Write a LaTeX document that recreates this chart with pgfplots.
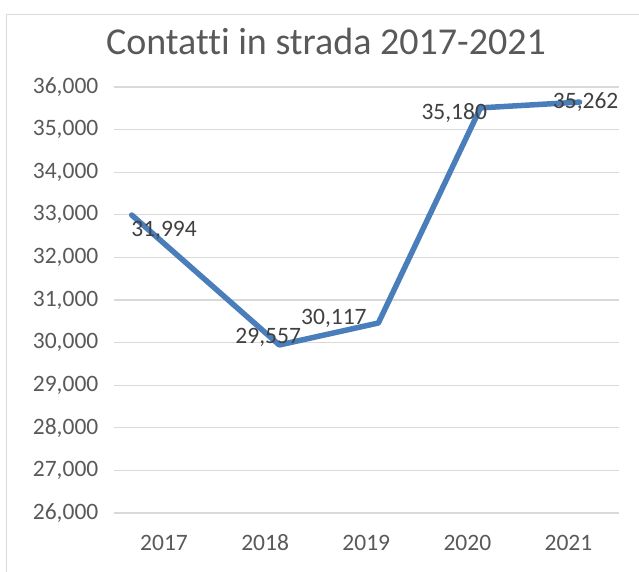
\documentclass[border=0pt]{standalone}
\usepackage{fontspec}
\setmainfont{Carlito}[Ligatures=CommonOff]
\usepackage{pgfplots}
\usepackage{pgfplotstable}
\pgfplotsset{compat=1.18}
\definecolor{gridgray}{RGB}{217,217,217}
\definecolor{titlegray}{RGB}{89,89,89}
\definecolor{labelgray}{RGB}{64,64,64}
\definecolor{lineblue}{RGB}{74,126,187}

\pgfplotstableread{
x y
-0.32 32995
1.14 29944
2.12 30460
3.13 35510
4.11 35645
}\linedata

\pgfplotstableread{
x y label
0.00 32631 31,994
1.03 30120 29,557
1.68 30559 30,117
2.87 35401 35,180
4.17 35636 35,262
}\labeldata

\begin{document}
\begin{tikzpicture}[x=1pt,y=1pt]
\useasboundingbox (0,0) rectangle (639,572);
\draw[color=gridgray, line width=1pt] (6,-5) -- (6,557) -- (645,557);
\node[text=titlegray, font=\fontsize{38}{45}\selectfont, inner sep=0pt] at (326,531) {Contatti in strada 2017-2021};
\begin{axis}[
  at={(113.5pt,59pt)}, anchor=south west,
  scale only axis, width=505.5pt, height=426pt,
  xmin=-0.5, xmax=4.5, ymin=26000, ymax=36000,
  xtick={0,1,2,3,4}, xticklabels={2017,2018,2019,2020,2021},
  ytick={26000,27000,...,36000},
  scaled y ticks=false,
  /pgf/number format/assume math mode=true,
  /pgf/number format/1000 sep={,},
  /pgf/number format/fixed,
  major tick length=0pt,
  axis line style={draw=none},
  ymajorgrids, grid style={color=gridgray, line width=1.2pt},
  ticklabel style={text=titlegray, font=\fontsize{23.5}{27}\selectfont, inner sep=0pt},
  xticklabel style={anchor=center, yshift=-30pt},
  yticklabel style={anchor=east, xshift=-15pt},
  clip=false,
]
\addplot[color=lineblue, line width=5.5pt, line join=round, line cap=round, mark=none] table[x=x,y=y]{\linedata};
\addplot[draw=none, mark=none, nodes near coords, point meta=explicit symbolic,
  nodes near coords style={anchor=center, text=labelgray, font=\fontsize{23.5}{27}\selectfont, inner sep=0pt}]
  table[x=x,y=y,meta=label]{\labeldata};
\end{axis}
\end{tikzpicture}
\end{document}
